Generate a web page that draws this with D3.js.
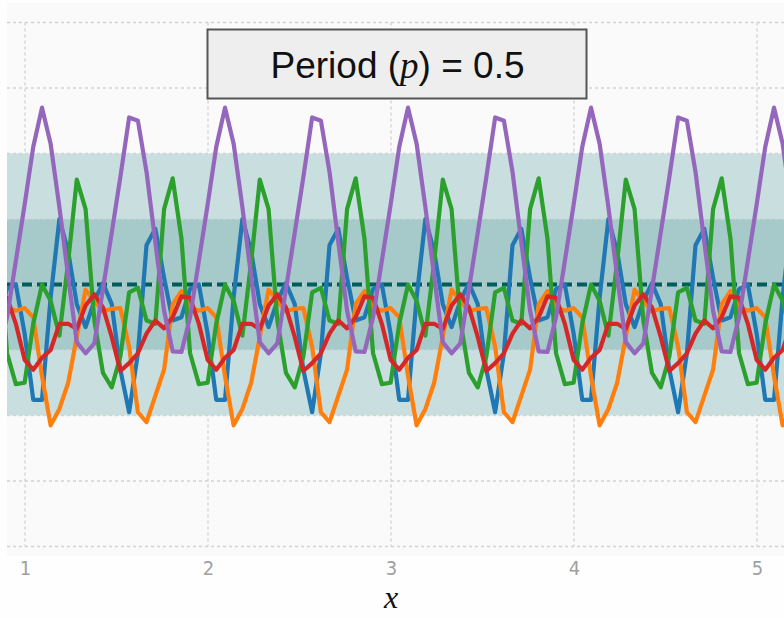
<!DOCTYPE html>
<html>
<head>
<meta charset="utf-8">
<script src="https://cdn.jsdelivr.net/npm/d3@7"></script>
<style>
  body { margin: 0; background: #fefefe; }
  svg { display: block; }
</style>
</head>
<body>
<svg id="chart"></svg>
<script>
// DATA //

const xTicks = [1, 2, 3, 4, 5]
const yGrid = [-4, -3, -2, -1, 0, 1, 2, 3, 4]
const outerBand = [-2, 2]
const innerBand = [-1, 1]
const meanLine = 0

const xs = [
  0.855, 0.902, 0.950, 0.998, 1.045, 1.093, 1.140, 1.188, 1.236, 1.283, 1.331, 1.379, 1.426, 1.474, 1.521, 1.569, 1.617, 1.664, 1.712, 1.760, 1.807,
  1.855, 1.902, 1.950, 1.998, 2.045, 2.093, 2.140, 2.188, 2.236, 2.283, 2.331, 2.379, 2.426, 2.474, 2.521, 2.569, 2.617, 2.664, 2.712, 2.760, 2.807,
  2.855, 2.902, 2.950, 2.998, 3.045, 3.093, 3.140, 3.188, 3.236, 3.283, 3.331, 3.379, 3.426, 3.474, 3.521, 3.569, 3.617, 3.664, 3.712, 3.760, 3.807,
  3.855, 3.902, 3.950, 3.998, 4.045, 4.093, 4.140, 4.188, 4.236, 4.283, 4.331, 4.379, 4.426, 4.474, 4.521, 4.569, 4.617, 4.664, 4.712, 4.760, 4.807,
  4.855, 4.902, 4.950, 4.998, 5.045, 5.093, 5.140, 5.188
]

const blue = [
  -0.50, -0.07, 0.00, -0.75, -1.76, -1.76, -0.20, 1.00, 0.50, -0.30, -0.65, -0.25, 0.02, -0.30, -1.30, -1.95, -1.05, 0.60, 0.85, 0.10, -0.55,
  -0.50, -0.07, 0.00, -0.75, -1.76, -1.76, -0.20, 1.00, 0.50, -0.30, -0.65, -0.25, 0.02, -0.30, -1.30, -1.95, -1.05, 0.60, 0.85, 0.10, -0.55,
  -0.50, -0.07, 0.00, -0.75, -1.76, -1.76, -0.20, 1.00, 0.50, -0.30, -0.65, -0.25, 0.02, -0.30, -1.30, -1.95, -1.05, 0.60, 0.85, 0.10, -0.55,
  -0.50, -0.07, 0.00, -0.75, -1.76, -1.76, -0.20, 1.00, 0.50, -0.30, -0.65, -0.25, 0.02, -0.30, -1.30, -1.95, -1.05, 0.60, 0.85, 0.10, -0.55,
  -0.50, -0.07, 0.00, -0.75, -1.76, -1.76, -0.20, 1.00
]

const orange = [
  -0.10, -0.35, -0.40, -0.36, -0.50, -1.40, -2.15, -1.90, -1.50, -0.80, -0.08, -0.25, -0.41, -0.37, -0.36, -0.95, -1.95, -2.10, -1.70, -1.30, -0.30,
  -0.10, -0.35, -0.40, -0.36, -0.50, -1.40, -2.15, -1.90, -1.50, -0.80, -0.08, -0.25, -0.41, -0.37, -0.36, -0.95, -1.95, -2.10, -1.70, -1.30, -0.30,
  -0.10, -0.35, -0.40, -0.36, -0.50, -1.40, -2.15, -1.90, -1.50, -0.80, -0.08, -0.25, -0.41, -0.37, -0.36, -0.95, -1.95, -2.10, -1.70, -1.30, -0.30,
  -0.10, -0.35, -0.40, -0.36, -0.50, -1.40, -2.15, -1.90, -1.50, -0.80, -0.08, -0.25, -0.41, -0.37, -0.36, -0.95, -1.95, -2.10, -1.70, -1.30, -0.30,
  -0.10, -0.35, -0.40, -0.36, -0.50, -1.40, -2.15, -1.90
]

const green = [
  0.70, -1.05, -1.52, -1.50, -0.60, 0.00, -0.25, -0.78, 0.35, 1.60, 1.15, -0.55, -1.35, -1.57, -1.10, -0.12, -0.05, -0.55, -0.60, 1.15, 1.62,
  0.70, -1.05, -1.52, -1.50, -0.60, 0.00, -0.25, -0.78, 0.35, 1.60, 1.15, -0.55, -1.35, -1.57, -1.10, -0.12, -0.05, -0.55, -0.60, 1.15, 1.62,
  0.70, -1.05, -1.52, -1.50, -0.60, 0.00, -0.25, -0.78, 0.35, 1.60, 1.15, -0.55, -1.35, -1.57, -1.10, -0.12, -0.05, -0.55, -0.60, 1.15, 1.62,
  0.70, -1.05, -1.52, -1.50, -0.60, 0.00, -0.25, -0.78, 0.35, 1.60, 1.15, -0.55, -1.35, -1.57, -1.10, -0.12, -0.05, -0.55, -0.60, 1.15, 1.62,
  0.70, -1.05, -1.52, -1.50, -0.60, 0.00, -0.25, -0.78
]

const red = [
  -0.18, -0.20, -0.60, -1.15, -1.30, -1.12, -1.00, -0.60, -0.60, -0.68, -0.32, -0.15, -0.35, -0.80, -1.32, -1.20, -1.05, -0.75, -0.55, -0.67, -0.50,
  -0.18, -0.20, -0.60, -1.15, -1.30, -1.12, -1.00, -0.60, -0.60, -0.68, -0.32, -0.15, -0.35, -0.80, -1.32, -1.20, -1.05, -0.75, -0.55, -0.67, -0.50,
  -0.18, -0.20, -0.60, -1.15, -1.30, -1.12, -1.00, -0.60, -0.60, -0.68, -0.32, -0.15, -0.35, -0.80, -1.32, -1.20, -1.05, -0.75, -0.55, -0.67, -0.50,
  -0.18, -0.20, -0.60, -1.15, -1.30, -1.12, -1.00, -0.60, -0.60, -0.68, -0.32, -0.15, -0.35, -0.80, -1.32, -1.20, -1.05, -0.75, -0.55, -0.67, -0.50,
  -0.18, -0.20, -0.60, -1.15, -1.30, -1.12, -1.00, -0.60
]

const purple = [
  -1.03, -0.50, 0.36, 1.22, 2.10, 2.70, 2.15, 1.18, 0.12, -0.88, -1.05, -0.90, -0.07, 0.79, 1.64, 2.55, 2.50, 1.72, 0.65, -0.40, -1.02,
  -1.03, -0.50, 0.36, 1.22, 2.10, 2.70, 2.15, 1.18, 0.12, -0.88, -1.05, -0.90, -0.07, 0.79, 1.64, 2.55, 2.50, 1.72, 0.65, -0.40, -1.02,
  -1.03, -0.50, 0.36, 1.22, 2.10, 2.70, 2.15, 1.18, 0.12, -0.88, -1.05, -0.90, -0.07, 0.79, 1.64, 2.55, 2.50, 1.72, 0.65, -0.40, -1.02,
  -1.03, -0.50, 0.36, 1.22, 2.10, 2.70, 2.15, 1.18, 0.12, -0.88, -1.05, -0.90, -0.07, 0.79, 1.64, 2.55, 2.50, 1.72, 0.65, -0.40, -1.02,
  -1.03, -0.50, 0.36, 1.22, 2.10, 2.70, 2.15, 1.18
]

const seriesList = [
  { name: 'blue', values: blue, color: '#1f77b4' },
  { name: 'orange', values: orange, color: '#ff7f0e' },
  { name: 'green', values: green, color: '#2ca02c' },
  { name: 'red', values: red, color: '#d62728' },
  { name: 'purple', values: purple, color: '#9467bd' }
]

// CHART //

const width = 784
const height = 618
const plotLeft = 7
const plotRight = 784
const plotTop = 3
const plotBottom = 556

const svg = d3.select('#chart')
  .attr('width', width)
  .attr('height', height)

const x = d3.scaleLinear().domain([1, 5]).range([25, 757])
const y = d3.scaleLinear().domain([-4, 4]).range([546.5, 22.5])

svg.append('defs').append('clipPath')
  .attr('id', 'plotclip')
  .append('rect')
  .attr('x', plotLeft)
  .attr('y', plotTop)
  .attr('width', plotRight - plotLeft)
  .attr('height', plotBottom - plotTop)

// plot background
svg.append('rect')
  .attr('x', plotLeft)
  .attr('y', plotTop)
  .attr('width', plotRight - plotLeft)
  .attr('height', plotBottom - plotTop)
  .attr('fill', '#fafafa')

// vertical grid
svg.append('g')
  .selectAll('line')
  .data(xTicks)
  .enter()
  .append('line')
  .attr('x1', d => x(d))
  .attr('x2', d => x(d))
  .attr('y1', y(4))
  .attr('y2', y(-4))
  .attr('stroke', '#d2d2d2')
  .attr('stroke-width', 1.3)
  .attr('stroke-dasharray', '3,3')

// bands
svg.append('rect')
  .attr('x', plotLeft)
  .attr('y', y(outerBand[1]))
  .attr('width', plotRight - plotLeft)
  .attr('height', y(outerBand[0]) - y(outerBand[1]))
  .attr('fill', '#c9dfdf')

svg.append('rect')
  .attr('x', plotLeft)
  .attr('y', y(innerBand[1]))
  .attr('width', plotRight - plotLeft)
  .attr('height', y(innerBand[0]) - y(innerBand[1]))
  .attr('fill', '#a6c9ca')

// horizontal grid
svg.append('g')
  .selectAll('line')
  .data(yGrid)
  .enter()
  .append('line')
  .attr('x1', plotLeft)
  .attr('x2', plotRight)
  .attr('y1', d => y(d))
  .attr('y2', d => y(d))
  .attr('stroke', '#d2d2d2')
  .attr('stroke-width', 1.3)
  .attr('stroke-dasharray', '3,3')

// mean line
svg.append('line')
  .attr('x1', plotLeft)
  .attr('x2', plotRight)
  .attr('y1', y(meanLine))
  .attr('y2', y(meanLine))
  .attr('stroke', '#005d5d')
  .attr('stroke-width', 4)
  .attr('stroke-dasharray', '10,5')

// sample lines
const line = d3.line()
  .x((d, i) => x(xs[i]))
  .y(d => y(d))

svg.append('g')
  .attr('clip-path', 'url(#plotclip)')
  .selectAll('path')
  .data(seriesList)
  .enter()
  .append('path')
  .attr('d', d => line(d.values))
  .attr('fill', 'none')
  .attr('stroke', d => d.color)
  .attr('stroke-width', 4.2)
  .attr('stroke-linejoin', 'round')

// x axis labels
const xAxis = svg.append('g')
  .attr('transform', 'translate(0,' + 561 + ')')
  .call(d3.axisBottom(x).tickValues(xTicks).tickSize(0).tickPadding(0).tickFormat(d3.format('d')))

xAxis.select('.domain').remove()
xAxis.selectAll('text')
  .attr('dy', '0.71em')
  .attr('fill', '#a0a0a0')
  .style('font-family', '"Liberation Sans Narrow", "DejaVu Sans Condensed", sans-serif')
  .style('font-size', '20px')

svg.append('text')
  .attr('x', x(3))
  .attr('y', 608)
  .attr('text-anchor', 'middle')
  .style('font-family', '"Liberation Serif", "DejaVu Serif", serif')
  .style('font-style', 'italic')
  .style('font-size', '32px')
  .attr('fill', '#111')
  .text('x')

// title box
svg.append('rect')
  .attr('x', 207.5)
  .attr('y', 29.5)
  .attr('width', 379)
  .attr('height', 69)
  .attr('fill', '#eeeeee')
  .attr('stroke', '#555')
  .attr('stroke-width', 2)

const title = svg.append('text')
  .attr('x', 397.5)
  .attr('y', 78)
  .attr('text-anchor', 'middle')
  .style('font-family', '"Liberation Sans", Arial, sans-serif')
  .style('font-size', '37px')
  .attr('fill', '#111')

title.append('tspan').text('Period (')
title.append('tspan')
  .style('font-family', '"Liberation Serif", "DejaVu Serif", serif')
  .style('font-style', 'italic')
  .text('p')
title.append('tspan').text(') = 0.5')
</script>
</body>
</html>
